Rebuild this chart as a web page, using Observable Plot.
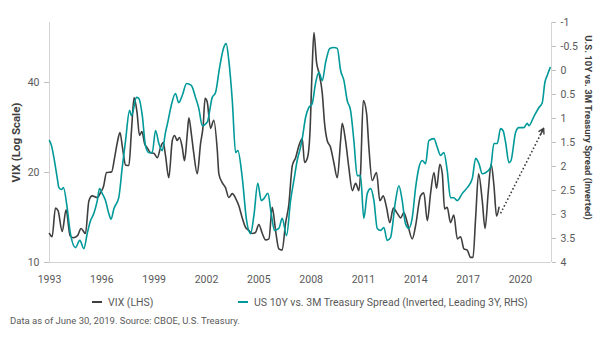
<!DOCTYPE html>
<html><head><meta charset="utf-8">
<script src="https://cdn.jsdelivr.net/npm/d3@7"></script>
<script src="https://cdn.jsdelivr.net/npm/@observablehq/plot@0.6"></script>
<style>
body{margin:0;background:#fff;}
#wrap{position:relative;width:605px;height:341px;font-family:Roboto, sans-serif;overflow:hidden;}
#wrap svg{position:absolute;left:0;top:0;}
.leg{position:absolute;top:296px;font-size:10.5px;line-height:14px;color:#595959;white-space:nowrap;}
.sw{display:inline-block;width:10px;height:2px;vertical-align:middle;margin-right:6px;position:relative;top:-1px;}
#cap{position:absolute;left:10px;top:314px;font-size:9.5px;line-height:13px;color:#595959;white-space:nowrap;}
</style></head><body>
<div id="wrap">
<div class="leg" style="left:92px"><span class="sw" style="background:#3f3f3f"></span>VIX (LHS)</div>
<div class="leg" style="left:238px"><span class="sw" style="background:#009999"></span>US 10Y vs. 3M Treasury Spread (Inverted, Leading 3Y, RHS)</div>
<div id="cap">Data as of June 30, 2019. Source: CBOE, U.S. Treasury.</div>
</div>
<script>
// VIX (LHS, log scale)
const vixYear = [1993.00,1993.15,1993.34,1993.49,1993.73,1993.95,1994.18,1994.35,1994.61,1994.81,1995.06,1995.26,1995.45,1995.74,1995.92,1996.10,1996.27,1996.56,1996.73,1996.90,1997.04,1997.19,1997.36,1997.55,1997.70,1997.85,1998.02,1998.16,1998.30,1998.45,1998.62,1998.79,1998.98,1999.18,1999.37,1999.52,1999.65,1999.84,2000.04,2000.17,2000.32,2000.45,2000.61,2000.74,2000.90,2000.99,2001.13,2001.27,2001.47,2001.66,2001.81,2001.92,2002.04,2002.23,2002.42,2002.62,2002.71,2002.90,2003.09,2003.28,2003.48,2003.67,2003.85,2004.05,2004.24,2004.43,2004.62,2004.81,2005.00,2005.20,2005.39,2005.58,2005.77,2005.96,2006.15,2006.34,2006.53,2006.72,2006.92,2007.11,2007.30,2007.49,2007.62,2007.79,2007.93,2008.06,2008.16,2008.31,2008.44,2008.64,2008.77,2008.92,2009.11,2009.30,2009.50,2009.69,2009.78,2009.97,2010.16,2010.36,2010.55,2010.74,2010.83,2010.99,2011.18,2011.31,2011.50,2011.75,2011.94,2012.13,2012.32,2012.51,2012.71,2012.94,2013.13,2013.32,2013.51,2013.80,2013.99,2014.27,2014.46,2014.66,2014.85,2015.04,2015.19,2015.38,2015.52,2015.65,2015.80,2015.99,2016.18,2016.38,2016.57,2016.76,2016.95,2017.14,2017.28,2017.43,2017.60,2017.81,2017.97,2018.16,2018.32,2018.48,2018.63,2018.77];
const vixValue = [12.5,12.2,15.2,14.9,12.7,15.0,12.3,12.1,12.3,13.0,12.5,16.1,16.7,16.5,17.1,18.0,20.0,20.1,22.4,25.4,27.2,24.1,21.2,21.1,27.6,35.6,31.7,26.6,27.4,25.0,24.1,23.3,23.2,22.4,24.3,25.2,22.8,19.2,25.6,26.6,25.6,26.2,24.3,21.9,27.0,30.5,27.0,23.2,19.8,25.0,28.7,35.4,34.5,28.1,29.9,23.7,19.8,18.5,17.8,16.5,17.0,16.4,15.5,14.1,13.1,12.8,12.5,12.6,13.4,12.5,11.9,12.0,15.3,12.8,11.1,11.0,13.5,15.6,21.1,22.4,24.6,26.0,21.6,22.4,27.0,44.9,58.8,46.7,43.2,36.8,29.2,25.6,24.3,21.6,19.2,25.6,29.2,25.6,20.8,17.4,18.4,17.4,19.8,34.8,31.5,24.3,18.8,20.0,16.1,16.7,15.3,13.6,15.2,14.6,14.1,14.7,13.6,12.0,13.3,16.7,17.1,13.8,17.1,20.0,17.7,21.3,19.8,15.1,15.3,13.6,14.4,12.0,12.2,11.1,11.0,10.4,10.4,14.1,19.8,16.1,13.0,17.4,21.3,18.1,14.3,15.3];

// US 10Y vs 3M spread (RHS, inverted, leading 3Y)
const spreadYear = [1993.00,1993.11,1993.25,1993.44,1993.54,1993.69,1993.80,1994.01,1994.20,1994.49,1994.74,1994.97,1995.16,1995.35,1995.54,1995.74,1995.87,1996.02,1996.21,1996.40,1996.53,1996.69,1996.97,1997.17,1997.36,1997.59,1997.70,1997.99,1998.12,1998.32,1998.50,1998.69,1998.89,1999.08,1999.27,1999.46,1999.65,1999.78,1999.98,2000.22,2000.41,2000.61,2000.86,2001.13,2001.37,2001.56,2001.76,2002.04,2002.33,2002.52,2002.75,2002.99,2003.13,2003.28,2003.48,2003.67,2003.80,2004.05,2004.30,2004.53,2004.72,2004.94,2005.14,2005.29,2005.52,2005.71,2005.90,2006.15,2006.34,2006.59,2006.82,2007.01,2007.20,2007.39,2007.49,2007.68,2007.87,2008.06,2008.25,2008.44,2008.64,2008.83,2009.07,2009.30,2009.50,2009.69,2009.88,2010.07,2010.26,2010.45,2010.64,2010.83,2011.02,2011.22,2011.41,2011.60,2011.79,2011.98,2012.17,2012.36,2012.55,2012.84,2013.03,2013.22,2013.41,2013.60,2013.80,2013.99,2014.18,2014.37,2014.56,2014.75,2015.04,2015.23,2015.42,2015.61,2015.80,2015.99,2016.18,2016.38,2016.67,2016.95,2017.24,2017.43,2017.62,2017.81,2018.00,2018.29,2018.48,2018.67,2018.86,2019.00,2019.15,2019.34,2019.46,2019.72,2019.91,2020.20,2020.39,2020.48,2020.77,2021.06,2021.25,2021.40,2021.54,2021.70];
const spreadValue = [1.46,1.56,1.81,2.23,2.44,2.48,2.44,2.85,3.40,3.69,3.54,3.71,3.40,3.13,2.98,2.71,2.46,2.56,2.71,2.98,3.10,2.88,2.65,2.02,1.46,0.83,0.94,0.56,0.58,0.94,1.56,1.71,1.71,1.25,1.52,1.67,1.29,1.08,0.73,0.48,0.67,0.52,0.27,0.31,0.56,0.79,1.15,1.08,0.56,0.46,-0.06,-0.48,-0.56,-0.21,0.63,1.71,1.67,2.23,3.13,3.40,3.02,2.35,2.71,2.67,2.56,2.98,3.33,3.29,3.08,3.44,2.71,2.29,1.875,1.60,1.42,0.98,0.77,0.69,0.27,0.04,0.21,-0.17,-0.46,-0.48,-0.46,0,0.21,0.63,0.83,1.46,2.19,2.19,3.08,2.56,2.46,2.71,3.29,3.33,3.27,3.54,3.48,2.71,2.40,2.71,3.19,3.29,3.06,2.44,2.02,1.875,1.94,1.46,1.42,1.60,1.77,1.71,2.08,2.65,2.65,2.71,2.56,2.44,2.25,1.83,1.94,2.15,2.13,2.02,1.52,1.52,1.21,1.25,1.50,1.92,1.875,1.29,1.19,1.19,1.10,1.15,0.96,0.77,0.67,0.25,0.10,-0.06];

const xTicks = [1993,1996,1999,2002,2005,2008,2011,2014,2017,2020];
const vixTicks = [10,20,40];
const spreadTicks = [-1,-0.5,0,0.5,1,1.5,2,2.5,3,3.5,4];
const xDomain = [1993, 2021.78];
const vixDomain = [10, 63.5];
const spreadDomain = [4, -1];
// dotted trend arrow (year, VIX)
const arrowFrom = [2018.86, 14.6];
const arrowTo = [2021.33, 28.1];

const vix = vixYear.map((t,i)=>({t, v: vixValue[i]}));
const spread = spreadYear.map((t,i)=>({t, s: spreadValue[i]}));
const arrowData = [{x1: arrowFrom[0], y1: arrowFrom[1], x2: arrowTo[0], y2: arrowTo[1]}];

const common = {width:605, height:290, marginLeft:49, marginRight:54, marginTop:22, marginBottom:28,
  style:{fontFamily:"Roboto, sans-serif", fontSize:"10.5px", background:"transparent", overflow:"visible"}};

const grey = "#3f3f3f", teal = "#009999", axisC = "#d4d4d4", txt = "#595959";

const p1 = Plot.plot({...common,
  x:{domain:xDomain},
  y:{type:"log", domain:vixDomain},
  marks:[
    Plot.ruleX([xDomain[0]], {stroke:axisC}),
    Plot.ruleY([vixDomain[0]], {stroke:axisC}),
    Plot.axisX({ticks:xTicks, tickSize:0, tickPadding:13, tickFormat:d=>String(d), fill:txt, label:null}),
    Plot.axisY({ticks:vixTicks, tickSize:5, tickPadding:5, tickFormat:d=>String(d), stroke:"#bfbfbf", fill:txt, label:null}),
    Plot.text(["VIX (Log Scale)"], {text:d=>d, frameAnchor:"left", textAnchor:"middle", dx:-33, rotate:-90, fontWeight:"bold", fontSize:11.5, fill:"#404040"}),
    Plot.line(vix, {x:"t", y:"v", stroke:grey, strokeWidth:1.6, curve:"monotone-x"}),
    Plot.link(arrowData, {x1:"x1", y1:"y1", x2:"x2", y2:"y2", stroke:grey, strokeWidth:1.6, strokeDasharray:"1.6,2.2"}),
    Plot.arrow(arrowData, {x1:"x1", y1:"y1", x2:"x2", y2:"y2", stroke:grey, strokeWidth:1.4, headLength:6, insetStart:88})
  ]});

const p2 = Plot.plot({...common,
  x:{domain:xDomain, axis:null},
  y:{domain:spreadDomain, axis:null},
  marks:[
    Plot.ruleX([xDomain[1]], {stroke:axisC}),
    Plot.axisY({anchor:"right", ticks:spreadTicks, tickSize:4, tickPadding:5, tickFormat:d=>String(d), stroke:"#bfbfbf", fill:txt, label:null}),
    Plot.text(["U.S. 10Y vs. 3M Treasury Spread (Inverted)"], {text:d=>d, frameAnchor:"right", textAnchor:"middle", dx:37, dy:-15, rotate:90, fontWeight:"bold", fontSize:9.5, fill:"#404040"}),
    Plot.line(spread, {x:"t", y:"s", stroke:teal, strokeWidth:1.6, curve:"monotone-x"})
  ]});

const wrap = document.getElementById("wrap");
wrap.prepend(p2);
wrap.prepend(p1);
</script>
</body></html>
